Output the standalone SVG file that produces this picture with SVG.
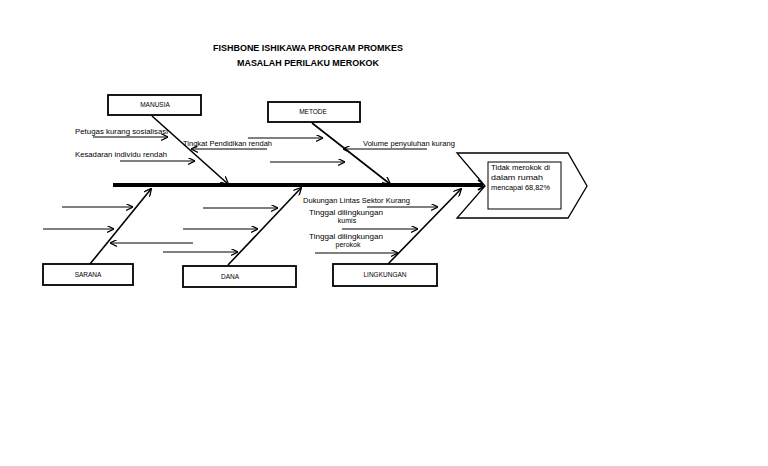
<svg xmlns="http://www.w3.org/2000/svg" width="768" height="466" viewBox="0 0 768 466">
<defs>
<marker id="ah" viewBox="0 0 10 10" refX="10" refY="5" markerWidth="7" markerHeight="7" markerUnits="userSpaceOnUse" orient="auto">
<polyline points="0,0 10,5 0,10" fill="none" stroke="#000" stroke-width="1.6"/>
</marker>
<marker id="ahb" viewBox="0 0 10 10" refX="9" refY="5" markerWidth="8" markerHeight="8" markerUnits="userSpaceOnUse" orient="auto">
<polyline points="0,0 10,5 0,10" fill="none" stroke="#000" stroke-width="1.6"/>
</marker>
</defs>
<style>
.t{font-family:"Liberation Sans",Arial,sans-serif;font-size:7px;fill:#000}
.b{font-family:"Liberation Sans",Arial,sans-serif;font-size:6.5px;fill:#000;text-anchor:middle}
.h{font-family:"Liberation Sans",Arial,sans-serif;font-size:9.5px;font-weight:bold;fill:#000;text-anchor:middle}
.box{fill:#fff;stroke:#000;stroke-width:1.8}
.a{stroke:#000;stroke-width:1;fill:none;marker-end:url(#ah)}
.bone{stroke:#000;stroke-width:1.6;fill:none;marker-end:url(#ahb)}
</style>
<rect width="768" height="466" fill="#fff"/>
<g id="title">
<text class="h" x="308" y="51" textLength="190" lengthAdjust="spacingAndGlyphs">FISHBONE ISHIKAWA PROGRAM PROMKES</text>
<text class="h" x="308" y="66" textLength="142" lengthAdjust="spacingAndGlyphs">MASALAH PERILAKU MEROKOK</text>
</g>
<g id="connectors">
<line x1="113" y1="185" x2="483" y2="185" stroke="#000" stroke-width="4"/>
<polyline points="478,180 486,185 478,190" fill="none" stroke="#000" stroke-width="2"/>
<line class="bone" x1="152" y1="116" x2="228" y2="184"/>
<line class="bone" x1="312" y1="123" x2="390" y2="184"/>
<line class="bone" x1="90" y1="264" x2="151" y2="189"/>
<line class="bone" x1="228" y1="265" x2="301" y2="188"/>
<line class="bone" x1="388" y1="264" x2="461" y2="189"/>
<line class="a" x1="93" y1="137" x2="168" y2="137"/>
<line class="a" x1="120" y1="161" x2="195" y2="161"/>
<line class="a" x1="267" y1="149" x2="191" y2="149"/>
<line class="a" x1="248" y1="138" x2="323" y2="138"/>
<line class="a" x1="270" y1="162" x2="345" y2="162"/>
<line class="a" x1="427" y1="149" x2="343" y2="149"/>
<line class="a" x1="62" y1="207" x2="133" y2="207"/>
<line class="a" x1="43" y1="229" x2="114" y2="229"/>
<line class="a" x1="193" y1="243" x2="110" y2="243"/>
<line class="a" x1="163" y1="252" x2="238" y2="252"/>
<line class="a" x1="203" y1="208" x2="278" y2="208"/>
<line class="a" x1="183" y1="229" x2="258" y2="229"/>
<line class="a" x1="367" y1="207" x2="438" y2="207"/>
<line class="a" x1="342" y1="229" x2="418" y2="229"/>
<line class="a" x1="315" y1="253" x2="398" y2="253"/>
</g>
<g id="manusia">
<rect class="box" x="108" y="95" width="93" height="20"/>
<text class="b" x="155" y="107">MANUSIA</text>
</g>
<g id="metode">
<rect class="box" x="268" y="102" width="92" height="20"/>
<text class="b" x="313" y="114">METODE</text>
</g>
<g id="sarana">
<rect class="box" x="43" y="264" width="90" height="21"/>
<text class="b" x="88" y="277">SARANA</text>
</g>
<g id="dana">
<rect class="box" x="183" y="266" width="113" height="21"/>
<text class="b" x="230" y="279">DANA</text>
</g>
<g id="lingkungan">
<rect class="box" x="333" y="264" width="104" height="22"/>
<text class="b" x="385" y="277">LINGKUNGAN</text>
</g>
<g id="labels">
<text class="t" x="75" y="134" textLength="93" lengthAdjust="spacingAndGlyphs">Petugas kurang sosialisasi</text>
<text class="t" x="75" y="157" textLength="92" lengthAdjust="spacingAndGlyphs">Kesadaran individu rendah</text>
<text class="t" x="183" y="146" textLength="89" lengthAdjust="spacingAndGlyphs">Tingkat Pendidikan rendah</text>
<text class="t" x="363" y="146" textLength="92" lengthAdjust="spacingAndGlyphs">Volume penyuluhan kurang</text>
<text class="t" x="303" y="203" textLength="107" lengthAdjust="spacingAndGlyphs">Dukungan Lintas Sektor Kurang</text>
<text class="t" x="309" y="215" textLength="74" lengthAdjust="spacingAndGlyphs">Tinggal dilingkungan</text>
<text class="t" x="347" y="223" text-anchor="middle">kumis</text>
<text class="t" x="309" y="239" textLength="74" lengthAdjust="spacingAndGlyphs">Tinggal dilingkungan</text>
<text class="t" x="348" y="247" text-anchor="middle">perokok</text>
</g>
<g id="effect">
<polygon points="457,153 568,153 587,186 568,218 457,218 485,186" fill="#fff" stroke="#000" stroke-width="1.3"/>
<rect x="488" y="162" width="73" height="47" fill="#fff" stroke="#000" stroke-width="1"/>
<text class="t" x="491" y="170" textLength="59" lengthAdjust="spacingAndGlyphs">Tidak merokok di</text>
<text class="t" x="491" y="180" textLength="52" lengthAdjust="spacingAndGlyphs">dalam  rumah</text>
<text class="t" x="491" y="190" textLength="59" lengthAdjust="spacingAndGlyphs">mencapai 68,82%</text>
</g>
</svg>
